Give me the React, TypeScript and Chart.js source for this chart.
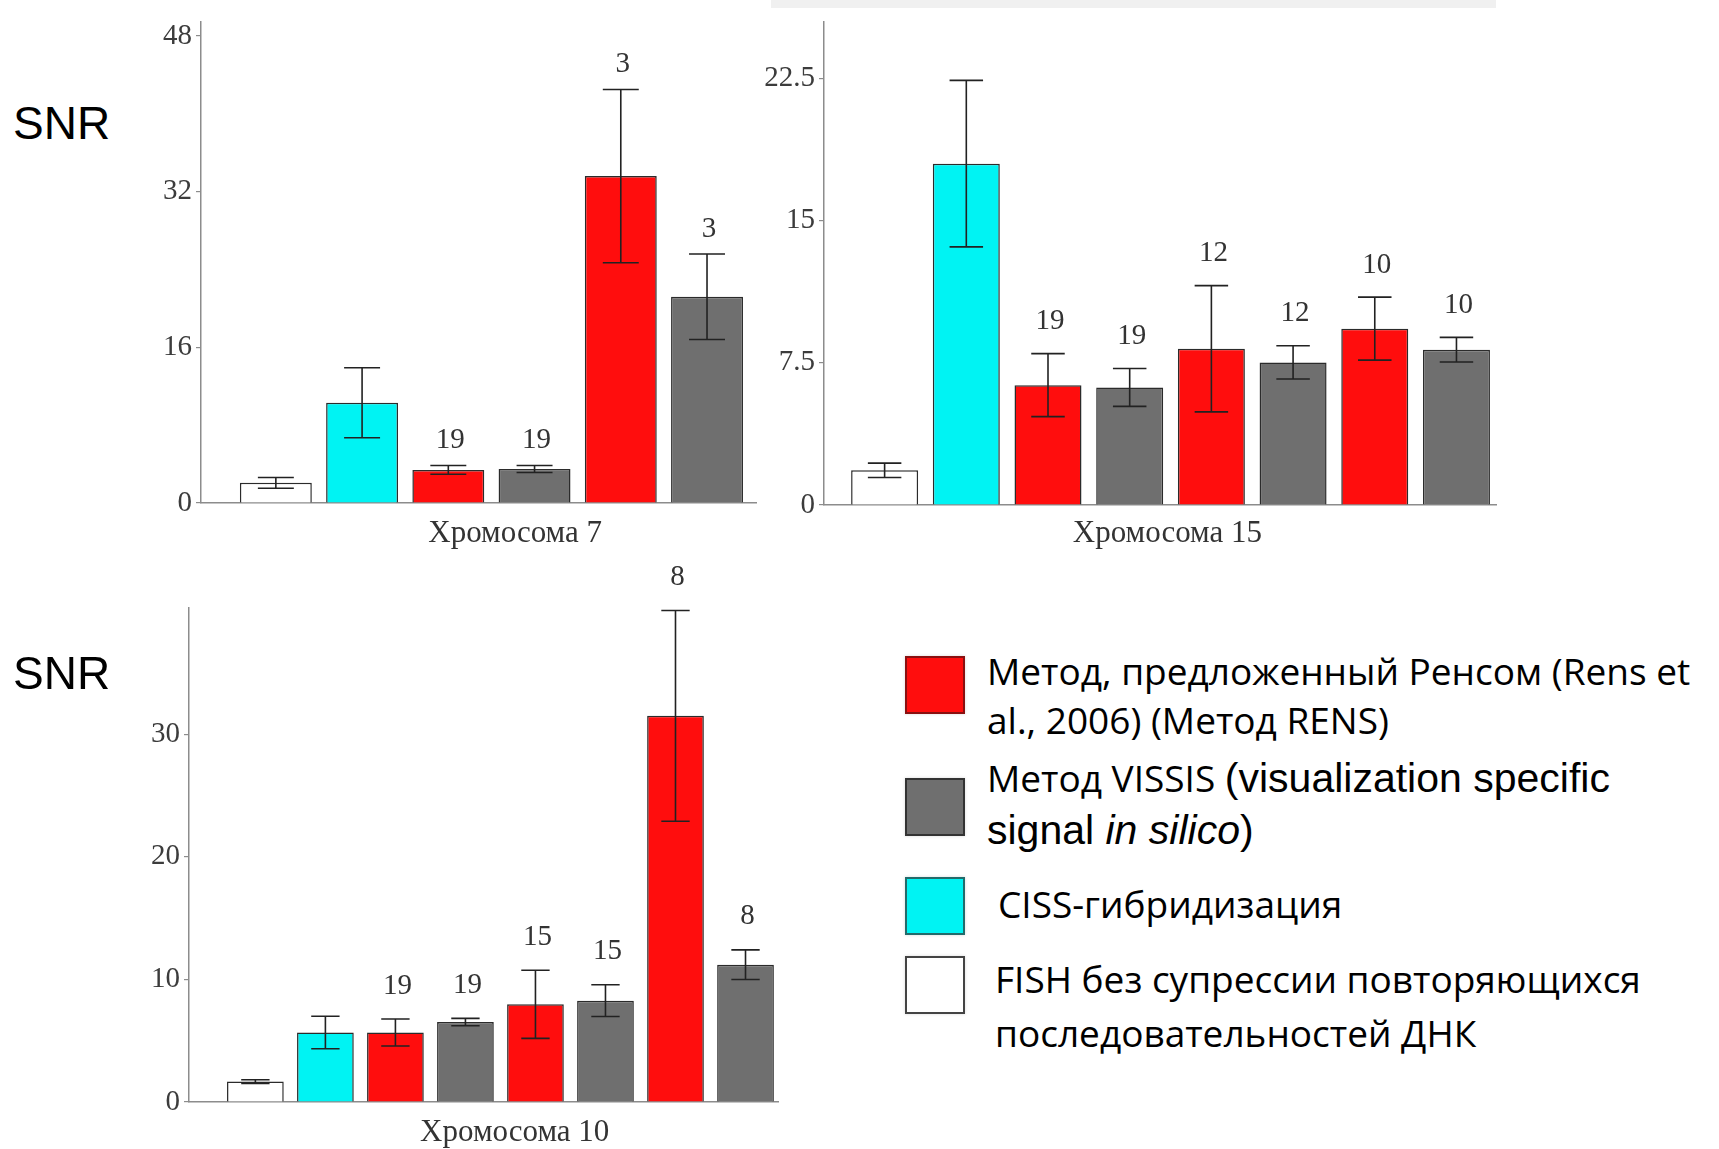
import React, { useEffect, useRef } from "react";
import { Chart, registerables } from "chart.js";
Chart.register(...registerables);

// ---------- DATA ----------
const chr7Methods = ["FISH", "CISS", "RENS", "VISSIS", "RENS", "VISSIS"];
const chr7Values = [2.07, 10.3, 3.4, 3.5, 33.6, 21.2];
const chr7Errors = [0.55, 3.6, 0.45, 0.36, 8.9, 4.4];
const chr7Counts = ["", "", "19", "19", "3", "3"];
const chr7Ticks = [0, 16, 32, 48];

const chr15Methods = ["FISH", "CISS", "RENS", "VISSIS", "RENS", "VISSIS", "RENS", "VISSIS"];
const chr15Values = [1.83, 18.0, 6.32, 6.2, 8.24, 7.52, 9.3, 8.19];
const chr15Errors = [0.38, 4.39, 1.66, 1.0, 3.33, 0.88, 1.66, 0.65];
const chr15Counts = ["", "", "19", "19", "12", "12", "10", "10"];
const chr15Ticks = [0, 7.5, 15, 22.5];

const chr10Methods = ["FISH", "CISS", "RENS", "VISSIS", "RENS", "VISSIS", "RENS", "VISSIS"];
const chr10Values = [1.67, 5.67, 5.67, 6.52, 7.97, 8.27, 31.5, 11.2];
const chr10Errors = [0.15, 1.33, 1.1, 0.3, 2.78, 1.29, 8.6, 1.21];
const chr10Counts = ["", "", "19", "19", "15", "15", "8", "8"];
const chr10Ticks = [0, 10, 20, 30];

const titles = ["Хромосома 7", "Хромосома 15", "Хромосома 10"];
const yLabel = "SNR";

// ---------- STYLES ----------
const FILL: Record<string, string> = {
  RENS: "#ff0d0d",
  VISSIS: "#6f6f6f",
  CISS: "#00f3f3",
  FISH: "#ffffff",
};
const SERIF = '"Liberation Serif", "Times New Roman", serif';
const AXIS = "#8c8c8c";

type Layout = {
  left: number; top: number; width: number; height: number;
  yWidth: number; padTop: number; padRight: number; xHeight: number;
  xMin: number; xMax: number; yMax: number; barFrac: number;
  titleFrac: number; titleDy: number; countGap: number;
};

type PanelProps = {
  methods: string[]; values: number[]; errors: number[]; counts: string[];
  ticks: number[]; title: string; layout: Layout;
};

function Panel({ methods, values, errors, counts, ticks, title, layout }: PanelProps) {
  const ref = useRef<HTMLCanvasElement | null>(null);
  useEffect(() => {
    const canvas = ref.current!;
    const annot = {
      id: "annot",
      afterDatasetsDraw(chart: any) {
        const ctx = chart.ctx;
        const yScale = chart.scales.y;
        const meta = chart.getDatasetMeta(0);
        ctx.save();
        meta.data.forEach((bar: any, i: number) => {
          const x = bar.x;
          const cap = bar.width * 0.5;
          const yHi = yScale.getPixelForValue(values[i] + errors[i]);
          const yLo = yScale.getPixelForValue(values[i] - errors[i]);
          ctx.strokeStyle = "#222";
          ctx.lineWidth = 1.6;
          ctx.beginPath();
          ctx.moveTo(x, yHi); ctx.lineTo(x, yLo);
          ctx.moveTo(x - cap / 2, yHi); ctx.lineTo(x + cap / 2, yHi);
          ctx.moveTo(x - cap / 2, yLo); ctx.lineTo(x + cap / 2, yLo);
          ctx.stroke();
          if (counts[i]) {
            ctx.fillStyle = "#333";
            ctx.font = `29px ${SERIF}`;
            ctx.textAlign = "center";
            ctx.textBaseline = "middle";
            ctx.fillText(counts[i], x + 2, yHi - layout.countGap);
          }
        });
        const ca = chart.chartArea;
        ctx.fillStyle = "#333";
        ctx.font = `31px ${SERIF}`;
        ctx.textAlign = "center";
        ctx.textBaseline = "middle";
        ctx.fillText(title, ca.left + layout.titleFrac * (ca.right - ca.left), ca.bottom + layout.titleDy);
        ctx.restore();
      },
    };
    const chart = new Chart(canvas, {
      type: "bar",
      data: {
        datasets: [
          {
            data: values.map((v, i) => ({ x: i, y: v })),
            backgroundColor: methods.map((m) => FILL[m]),
            borderColor: "#2b2b2b",
            borderWidth: 1.5,
            barPercentage: layout.barFrac,
            categoryPercentage: 1,
          } as any,
        ],
      },
      options: {
        animation: false,
        responsive: false,
        events: [],
        layout: { padding: { top: layout.padTop, right: layout.padRight, left: 0, bottom: 0 } },
        plugins: { legend: { display: false }, tooltip: { enabled: false } },
        scales: {
          x: {
            type: "linear",
            offset: false,
            min: layout.xMin,
            max: layout.xMax,
            afterBuildTicks: (s: any) => { s.ticks = values.map((_, i) => ({ value: i })); },
            ticks: { display: false },
            grid: { display: false },
            border: { display: true, color: AXIS, width: 1.5 },
            afterFit: (s: any) => { s.height = layout.xHeight; },
          },
          y: {
            type: "linear",
            min: 0,
            max: layout.yMax,
            afterBuildTicks: (s: any) => { s.ticks = ticks.map((v) => ({ value: v })); },
            ticks: { color: "#3c3c3c", font: { family: SERIF, size: 29 }, padding: 4 },
            grid: { drawOnChartArea: false, drawTicks: true, tickLength: 5, color: AXIS, lineWidth: 1.2 },
            border: { display: true, color: AXIS, width: 1.5 },
            afterFit: (s: any) => { s.width = layout.yWidth; },
          },
        } as any,
      },
      plugins: [annot],
    });
    return () => chart.destroy();
  }, []);
  return (
    <canvas
      ref={ref}
      width={layout.width}
      height={layout.height}
      style={{ position: "absolute", left: layout.left, top: layout.top, width: layout.width, height: layout.height, display: "block" }}
    />
  );
}

const layout7: Layout = {
  left: 120, top: 0, width: 660, height: 560,
  yWidth: 81, padTop: 16, padRight: 24, xHeight: 57,
  xMin: -0.868, xMax: 5.568, yMax: 49.5, barFrac: 0.834,
  titleFrac: 0.566, titleDy: 31, countGap: 25,
};
const layout15: Layout = {
  left: 740, top: 0, width: 780, height: 560,
  yWidth: 84, padTop: 3, padRight: 24, xHeight: 55,
  xMin: -0.742, xMax: 7.484, yMax: 25.5, barFrac: 0.82,
  titleFrac: 0.511, titleDy: 29, countGap: 32,
};
const layout10: Layout = {
  left: 100, top: 560, width: 700, height: 589,
  yWidth: 89, padTop: 48, padRight: 22, xHeight: 47,
  xMin: -0.948, xMax: 7.464, yMax: 40.3, barFrac: 0.81,
  titleFrac: 0.553, titleDy: 30.5, countGap: 33,
};

const CAL = '"Open Sans", "Noto Sans", sans-serif';
const ARIAL = '"Liberation Sans", Arial, sans-serif';

function Line({ x, cy, size, children, family }: { x: number; cy: number; size: number; children: React.ReactNode; family?: string }) {
  return (
    <div
      style={{
        position: "absolute", left: x, top: cy - size * 0.6, fontSize: size, lineHeight: `${size * 1.2}px`,
        fontFamily: family || CAL, color: "#000", whiteSpace: "nowrap",
      }}
    >
      {children}
    </div>
  );
}

function Swatch({ y, fill, border }: { y: number; fill: string; border: string }) {
  return (
    <div
      style={{
        position: "absolute", left: 905, top: y, width: 56, height: 54, background: fill,
        border: `2px solid ${border}`, boxShadow: "0 0 3px rgba(0,0,0,0.15)",
      }}
    />
  );
}

export default function App() {
  useEffect(() => {
    document.body.style.margin = "0";
    document.body.style.overflow = "hidden";
  }, []);
  return (
    <div style={{ position: "absolute", left: 0, top: 0, width: 1719, height: 1149, background: "#fff", overflow: "hidden" }}>
      <div style={{ position: "absolute", left: 771, top: 0, width: 725, height: 8, background: "#f0f0f0" }} />
      <Panel methods={chr7Methods} values={chr7Values} errors={chr7Errors} counts={chr7Counts} ticks={chr7Ticks} title={titles[0]} layout={layout7} />
      <Panel methods={chr15Methods} values={chr15Values} errors={chr15Errors} counts={chr15Counts} ticks={chr15Ticks} title={titles[1]} layout={layout15} />
      <Panel methods={chr10Methods} values={chr10Values} errors={chr10Errors} counts={chr10Counts} ticks={chr10Ticks} title={titles[2]} layout={layout10} />

      <Line x={13} cy={124} size={46} family={ARIAL}>{yLabel}</Line>
      <Line x={13} cy={674} size={46} family={ARIAL}>{yLabel}</Line>

      <Swatch y={656} fill={FILL.RENS} border="#8a1010" />
      <Swatch y={778} fill={FILL.VISSIS} border="#333" />
      <Swatch y={877} fill={FILL.CISS} border="#226b6b" />
      <Swatch y={956} fill={FILL.FISH} border="#444" />

      <Line x={987} cy={671} size={37}>Метод, предложенный Ренсом (Rens et</Line>
      <Line x={987} cy={720} size={37}>al., 2006) (Метод RENS)</Line>
      <Line x={987} cy={778} size={37}>
        Метод VISSIS <span style={{ fontFamily: ARIAL, fontSize: 41 }}>(visualization specific</span>
      </Line>
      <Line x={987} cy={831} size={41} family={ARIAL}>
        signal <i>in silico</i>)
      </Line>
      <Line x={998} cy={904} size={37}>CISS-гибридизация</Line>
      <Line x={995} cy={979} size={37}>FISH без супрессии повторяющихся</Line>
      <Line x={995} cy={1033} size={37}>последовательностей ДНК</Line>
    </div>
  );
}
